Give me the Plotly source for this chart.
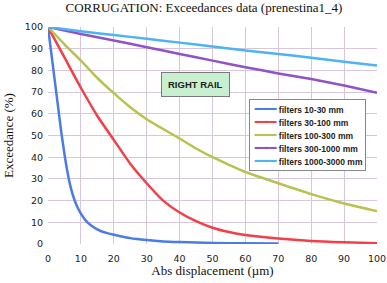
import plotly.graph_objects as go

# ---- data ----
x_blue = [0, 1, 2, 3, 4, 5, 6, 7, 8, 9, 10, 11, 12, 14, 16, 18, 20, 25, 30, 35, 40, 50, 60, 70]
y_blue = [100, 88, 76, 64, 52, 41.5, 32.5, 25.5, 20.5, 16.8, 14, 11.8, 10, 7.6, 6.0, 5.0, 4.3, 2.7, 1.8, 1.2, 0.9, 0.5, 0.3, 0.2]

x_red = [0, 5, 10, 15, 20, 25, 30, 35, 40, 45, 50, 55, 60, 70, 80, 90, 100]
y_red = [100, 86, 72, 59, 48, 37, 28, 20, 14.5, 10.5, 7.5, 5.5, 4.1, 2.5, 1.4, 0.8, 0.4]

x_olive = [0, 5, 10, 15, 20, 25, 30, 35, 40, 45, 50, 55, 60, 70, 80, 90, 100]
y_olive = [100, 92, 84.5, 76.5, 69.5, 63, 57.5, 53, 48.6, 44, 40, 36.5, 33.2, 28, 23, 18.7, 15.2]

x_purple = [0, 10, 20, 30, 40, 50, 60, 70, 80, 90, 100]
y_purple = [100, 96.8, 93.8, 90.7, 87.6, 84.5, 81.5, 78.6, 76, 73, 69.7]

x_lblue = [0, 10, 20, 30, 40, 50, 60, 70, 80, 90, 100]
y_lblue = [100, 98.0, 96.3, 94.6, 92.8, 91, 89.2, 87.6, 85.8, 84, 82.3]

names = ["filters 10-30 mm", "filters 30-100 mm", "filters 100-300 mm",
         "filters 300-1000 mm", "filters 1000-3000 mm"]
colors = ["#4a7be6", "#f23f48", "#b9c24f", "#9152c6", "#4db3f2"]
xs_all = [x_blue, x_red, x_olive, x_purple, x_lblue]
ys_all = [y_blue, y_red, y_olive, y_purple, y_lblue]

tick_vals = [0, 10, 20, 30, 40, 50, 60, 70, 80, 90, 100]

fig = go.Figure()
for name, xs, ys, col in zip(names, xs_all, ys_all, colors):
    fig.add_trace(go.Scatter(x=xs, y=ys, name=name, mode="lines", showlegend=False,
                             line=dict(color=col, width=2.5, shape="spline", smoothing=0.6)))

grid = "#d8c6dc"
fig.update_layout(
    width=387, height=283,
    margin=dict(l=48, r=10, t=27, b=39, autoexpand=False),
    paper_bgcolor="white", plot_bgcolor="white",
    title=dict(text="CORRUGATION: Exceedances data (prenestina1_4)",
               x=0.527, xanchor="center", y=0.99, yanchor="top",
               font=dict(family="Liberation Serif", size=13, color="#111")),
    xaxis=dict(range=[0, 100], tickvals=tick_vals, showgrid=True, gridcolor=grid,
               gridwidth=1, zeroline=False, showline=False, automargin=False,
               ticks="", ticklabelstandoff=7,
               tickfont=dict(family="DejaVu Sans", size=9.5, color="#222"),
               title=dict(text="Abs displacement (µm)", standoff=2,
                          font=dict(family="Liberation Serif", size=13, color="#111"))),
    yaxis=dict(range=[0, 100], tickvals=tick_vals, showgrid=True, gridcolor=grid,
               gridwidth=1, zeroline=False, showline=False, automargin=False,
               ticks="", ticklabelstandoff=4,
               tickfont=dict(family="DejaVu Sans", size=9.5, color="#222"),
               title=dict(text="Exceedance (%)", standoff=8,
                          font=dict(family="Liberation Serif", size=13, color="#111"))),
    showlegend=False,
)

# legend box built from text (colored line glyphs + labels)
legend_lines = []
for name, col in zip(names, colors):
    legend_lines.append(
        f"&nbsp;<span style='color:{col};font-family:DejaVu Sans;font-size:12px'>━━━</span>"
        f"<span style='font-size:8.5px'> <b>{name}</b></span>")
fig.add_annotation(x=0.611, y=0.668, xref="paper", yref="paper", xanchor="left", yanchor="top",
                   text="<br>".join(legend_lines), align="left", showarrow=False,
                   bgcolor="white", bordercolor="#888", borderwidth=1, borderpad=2,
                   font=dict(family="Liberation Sans", size=10, color="#222"))

fig.add_annotation(x=44.8, y=73.3, xref="x", yref="y", text="<b>RIGHT RAIL</b>",
                   showarrow=False, bgcolor="#c8efcf", bordercolor="#7a7a7a",
                   borderwidth=1, borderpad=6,
                   font=dict(family="Liberation Sans", size=9.5, color="#222"))
fig.write_html("out.html", config={"displayModeBar": False},
               post_script="document.body.style.margin='0';document.body.style.padding='0';")
